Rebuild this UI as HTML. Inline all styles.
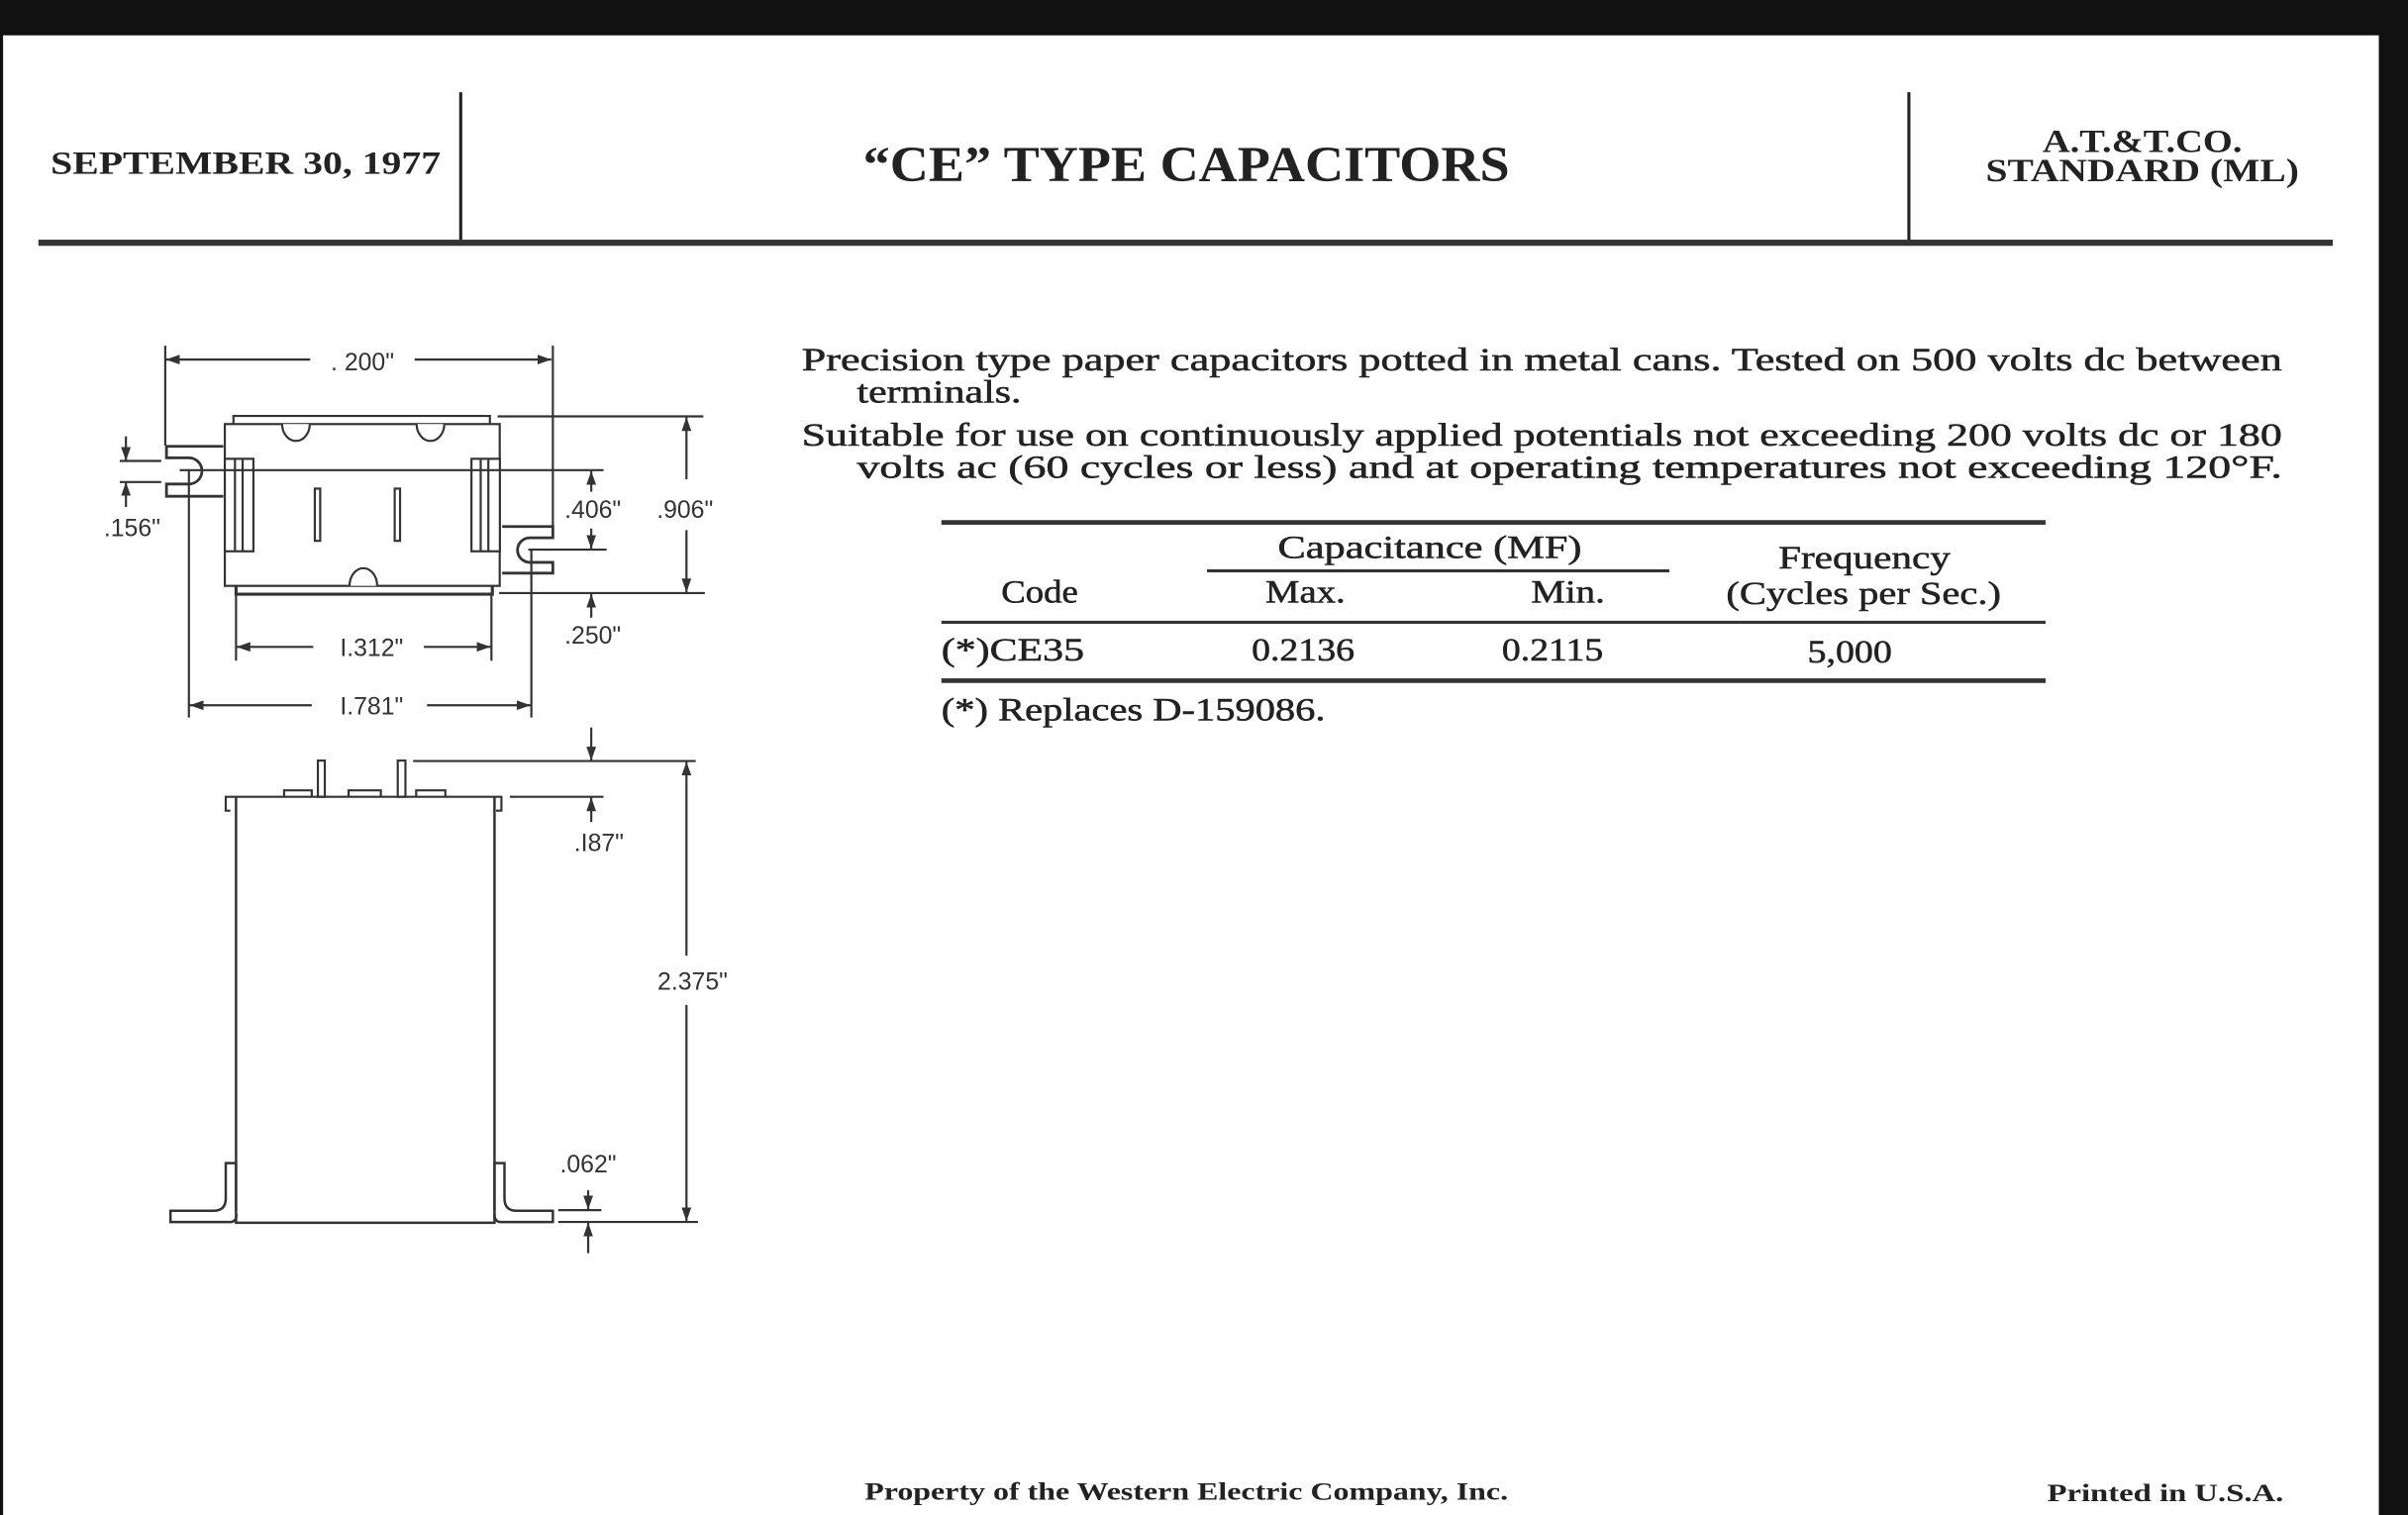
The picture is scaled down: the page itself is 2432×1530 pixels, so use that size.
<!DOCTYPE html>
<html><head><meta charset="utf-8"><style>
html,body{margin:0;padding:0;background:#fff;}
svg{display:block;}
.h{font-family:"Liberation Serif",serif;font-weight:bold;fill:#222;}
.p{font-family:"Liberation Serif",serif;fill:#222;font-size:21px;stroke:#222;stroke-width:0.35;}
.d{font-family:"Liberation Sans",sans-serif;fill:#333;font-size:16px;}
</style></head><body>
<svg width="2432" height="1530" viewBox="0 0 1568 986" preserveAspectRatio="none" xmlns="http://www.w3.org/2000/svg">
<rect x="0" y="0" width="1568" height="986" fill="#fff"/>
<rect x="0" y="0" width="1568" height="23" fill="#111"/>
<rect x="0" y="0" width="2" height="986" fill="#111"/>
<rect x="1549" y="0" width="19" height="986" fill="#111"/>
<line x1="300" y1="60" x2="300" y2="158" stroke="#222" stroke-width="2"/>
<line x1="1243" y1="60" x2="1243" y2="158" stroke="#222" stroke-width="2"/>
<rect x="25" y="156" width="1494" height="4" fill="#333"/>
<text class="h" x="33" y="113" font-size="21" textLength="254" lengthAdjust="spacingAndGlyphs">SEPTEMBER 30, 1977</text>
<text class="h" x="562" y="118" font-size="33" textLength="421" lengthAdjust="spacingAndGlyphs">“CE” TYPE CAPACITORS</text>
<text class="h" x="1330" y="99" font-size="21" textLength="130" lengthAdjust="spacingAndGlyphs">A.T.&amp;T.CO.</text>
<text class="h" x="1293" y="118" font-size="21" textLength="204" lengthAdjust="spacingAndGlyphs">STANDARD (ML)</text>
<text class="p" x="522" y="241" textLength="964" lengthAdjust="spacingAndGlyphs">Precision type paper capacitors potted in metal cans. Tested on 500 volts dc between</text>
<text class="p" x="558" y="262" textLength="107" lengthAdjust="spacingAndGlyphs">terminals.</text>
<text class="p" x="522" y="290" textLength="964" lengthAdjust="spacingAndGlyphs">Suitable for use on continuously applied potentials not exceeding 200 volts dc or 180</text>
<text class="p" x="558" y="311" textLength="928" lengthAdjust="spacingAndGlyphs">volts ac (60 cycles or less) and at operating temperatures not exceeding 120°F.</text>
<rect x="613" y="338.5" width="719" height="3" fill="#333"/>
<text class="p" x="832" y="363" textLength="198" lengthAdjust="spacingAndGlyphs">Capacitance (MF)</text>
<rect x="786" y="370.5" width="301" height="2" fill="#333"/>
<text class="p" x="1158" y="370" textLength="112" lengthAdjust="spacingAndGlyphs">Frequency</text>
<text class="p" x="652" y="392" textLength="50" lengthAdjust="spacingAndGlyphs">Code</text>
<text class="p" x="824" y="392" textLength="52" lengthAdjust="spacingAndGlyphs">Max.</text>
<text class="p" x="997" y="392" textLength="48" lengthAdjust="spacingAndGlyphs">Min.</text>
<text class="p" x="1124" y="393" textLength="179" lengthAdjust="spacingAndGlyphs">(Cycles per Sec.)</text>
<rect x="613" y="404" width="719" height="2" fill="#333"/>
<text class="p" x="613" y="430" textLength="93" lengthAdjust="spacingAndGlyphs">(*)CE35</text>
<text class="p" x="815" y="430" textLength="67" lengthAdjust="spacingAndGlyphs">0.2136</text>
<text class="p" x="978" y="430" textLength="66" lengthAdjust="spacingAndGlyphs">0.2115</text>
<text class="p" x="1177" y="431" textLength="55" lengthAdjust="spacingAndGlyphs">5,000</text>
<rect x="613" y="441.5" width="719" height="3" fill="#333"/>
<text class="p" x="613" y="469" textLength="250" lengthAdjust="spacingAndGlyphs">(*)  Replaces D-159086.</text>
<text class="h" x="563" y="976" font-size="16" textLength="419" lengthAdjust="spacingAndGlyphs">Property of the Western Electric Company, Inc.</text>
<text class="h" x="1333" y="977" font-size="16" textLength="154" lengthAdjust="spacingAndGlyphs">Printed in U.S.A.</text>
<defs>
<marker id="a" viewBox="0 0 10 10" refX="10" refY="5" markerWidth="9" markerHeight="9" markerUnits="userSpaceOnUse" orient="auto-start-reverse"><path d="M0,1.5 L10,5 L0,8.5 Z" fill="#333"/></marker>
</defs>
<g stroke="#333" stroke-width="1.4" fill="none">
<line x1="107.6" y1="225" x2="107.6" y2="290"/>
<line x1="360" y1="225" x2="360" y2="342"/>
<line x1="108" y1="234" x2="202" y2="234" marker-start="url(#a)"/>
<line x1="270" y1="234" x2="359" y2="234" marker-end="url(#a)"/>
<path d="M152,276 L152,270.7 L319,270.7 L319,276"/>
<rect x="146.4" y="276" width="179" height="105.3"/>
<path d="M153.7,381.3 L153.7,386.7 L320.6,386.7 L320.6,381.3" stroke-width="2"/>
<path d="M183.7,276 A9,11 0 0 0 201.7,276" fill="#fff"/>
<path d="M271.3,276 A9,11 0 0 0 289.3,276" fill="#fff"/>
<path d="M227.6,381.3 A9,11.5 0 0 1 245.6,381.3" fill="#fff"/>
<rect x="146.4" y="298.6" width="18.6" height="60.2" fill="#fff"/>
<line x1="153" y1="298.6" x2="153" y2="358.8"/>
<line x1="158" y1="298.6" x2="158" y2="358.8"/>
<rect x="307" y="298.6" width="18.5" height="60.2" fill="#fff"/>
<line x1="313" y1="298.6" x2="313" y2="358.8"/>
<line x1="318" y1="298.6" x2="318" y2="358.8"/>
<rect x="205" y="318" width="3.5" height="34"/>
<rect x="257" y="318" width="3.5" height="34"/>
<path d="M145.4,290.5 L108.4,290.5 L108.4,298 L123,298 A8.5,8.5 0 0 1 123,315 L108.4,315 L108.4,323 L145.4,323" stroke-width="1.8"/>
<path d="M327,342.7 L360,342.7 L360,350 L345,350 A8,8 0 0 0 345,366 L360,366 L360,373 L327,373" stroke-width="1.8"/>
<line x1="78" y1="300" x2="105" y2="300"/>
<line x1="78" y1="313.7" x2="105" y2="313.7"/>
<line x1="82" y1="284" x2="82" y2="300" marker-end="url(#a)"/>
<line x1="82" y1="330" x2="82" y2="313.7" marker-end="url(#a)"/>
<line x1="117" y1="306" x2="393" y2="306"/>
<line x1="123" y1="306" x2="123" y2="467"/>
<line x1="344" y1="357.7" x2="395" y2="357.7"/>
<line x1="346" y1="357.7" x2="346" y2="467"/>
<line x1="385" y1="320" x2="385" y2="306.5" marker-end="url(#a)"/>
<line x1="385" y1="344" x2="385" y2="357.2" marker-end="url(#a)"/>
<line x1="324" y1="271" x2="458" y2="271"/>
<line x1="325" y1="386" x2="459" y2="386"/>
<line x1="447" y1="312" x2="447" y2="271.5" marker-end="url(#a)"/>
<line x1="447" y1="345" x2="447" y2="385.5" marker-end="url(#a)"/>
<line x1="385" y1="402" x2="385" y2="386.5" marker-end="url(#a)"/>
<line x1="153.7" y1="387" x2="153.7" y2="430"/>
<line x1="320" y1="387" x2="320" y2="430"/>
<line x1="154" y1="421" x2="204" y2="421" marker-start="url(#a)"/>
<line x1="276" y1="421" x2="319.5" y2="421" marker-end="url(#a)"/>
<line x1="123.5" y1="459" x2="203" y2="459" marker-start="url(#a)"/>
<line x1="278" y1="459" x2="345.5" y2="459" marker-end="url(#a)"/>
<line x1="269" y1="495.3" x2="453" y2="495.3"/>
<line x1="385" y1="473.5" x2="385" y2="495" marker-end="url(#a)"/>
<line x1="332" y1="518.6" x2="393" y2="518.6"/>
<line x1="385" y1="535" x2="385" y2="519" marker-end="url(#a)"/>
<path d="M150,527.6 L147,527.6 L147,518.6 L326.5,518.6 L326.5,527.6 L323,527.6"/>
<path d="M153.7,518.6 L153.7,795.8 L322,795.8 L322,518.6" stroke-width="1.6"/>
<rect x="207" y="495" width="4.5" height="23.6"/>
<rect x="259" y="495" width="5" height="23.6"/>
<path d="M185,518.6 L185,514.4 L203,514.4 L203,518.6"/>
<path d="M227,518.6 L227,514.4 L248,514.4 L248,518.6"/>
<path d="M271,518.6 L271,514.4 L290,514.4 L290,518.6"/>
<path d="M153.7,788 L153.7,757 L147,757 L147,780 Q147,788 139,788 L111,788 L111,795.3 L150,795.3 Q154,795.3 154,790" stroke-width="1.6"/>
<path d="M322,788 L322,757 L328.5,757 L328.5,780 Q328.5,788 336.5,788 L360,788 L360,795.3 L326,795.3 Q322,795.3 322,790" stroke-width="1.6"/>
<line x1="363.5" y1="787.6" x2="391.6" y2="787.6"/>
<line x1="363.5" y1="795.3" x2="454.5" y2="795.3"/>
<line x1="383" y1="774.7" x2="383" y2="787.2" marker-end="url(#a)"/>
<line x1="383" y1="815.6" x2="383" y2="795.7" marker-end="url(#a)"/>
<line x1="447" y1="622" x2="447" y2="495.7" marker-end="url(#a)"/>
<line x1="447" y1="654" x2="447" y2="794.9" marker-end="url(#a)"/>
</g>
<text class="d" x="236" y="241" text-anchor="middle">. 200"</text>
<text class="d" x="86" y="349" text-anchor="middle">.156"</text>
<text class="d" x="386" y="337" text-anchor="middle">.406"</text>
<text class="d" x="446" y="337" text-anchor="middle">.906"</text>
<text class="d" x="386" y="419" text-anchor="middle">.250"</text>
<text class="d" x="242" y="427" text-anchor="middle">I.312"</text>
<text class="d" x="242" y="465" text-anchor="middle">I.781"</text>
<text class="d" x="390" y="554" text-anchor="middle">.I87"</text>
<text class="d" x="451" y="644" text-anchor="middle">2.375"</text>
<text class="d" x="383" y="763" text-anchor="middle">.062"</text>
</svg>
</body></html>
